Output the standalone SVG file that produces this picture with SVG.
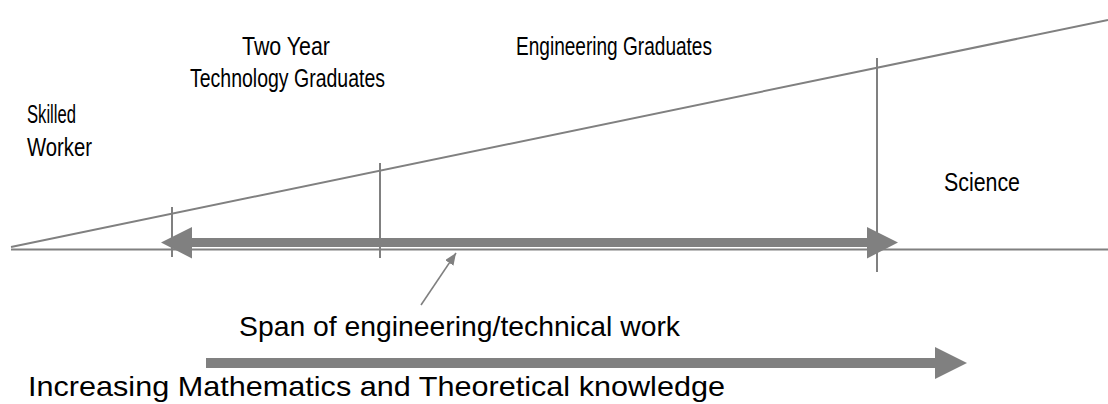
<svg xmlns="http://www.w3.org/2000/svg" width="1108" height="404" viewBox="0 0 1108 404">
  <style>
    .line { stroke: #808080; stroke-width: 2; fill: none; }
    .thin { stroke: #808080; stroke-width: 1.6; fill: none; }
    .band { fill: #808080; stroke: none; }
    .lbl { font-family: "Liberation Sans Narrow", "Liberation Sans", Arial, sans-serif; font-size: 25px; fill: #000; }
    .big { font-family: "Liberation Sans", Arial, sans-serif; font-size: 28px; fill: #000; }
  </style>
  <defs>
    <marker id="tip" viewBox="0 0 12 10" refX="12" refY="5" markerWidth="12" markerHeight="10" markerUnits="userSpaceOnUse" orient="auto">
      <path d="M0,0 L12,5 L0,10 Z" fill="#808080"/>
    </marker>
  </defs>

  <!-- axis, slope and the three dividers -->
  <g id="frame">
    <line class="line" x1="11" y1="249.5" x2="1108" y2="249.5"/>
    <line class="line" x1="11" y1="247" x2="1108" y2="20"/>
    <line class="line" x1="172" y1="207" x2="172" y2="257"/>
    <line class="line" x1="380" y1="163" x2="380" y2="258"/>
    <line class="line" x1="877" y1="58" x2="877" y2="272"/>
  </g>

  <g id="connectors">
    <!-- span of engineering/technical work -->
    <polygon class="band" points="161,242.5 192,227 192,238 867,238 867,227 898,242.5 867,258.5 867,247 192,247 192,258.5"/>
    <!-- increasing mathematics -->
    <polygon class="band" points="206,358 935,358 935,347 967,363 935,379 935,368 206,368"/>
    <!-- pointer to the span -->
    <line class="thin" x1="421" y1="305" x2="456" y2="253" marker-end="url(#tip)"/>
  </g>

  <g id="skilled-worker">
    <text class="lbl" x="27" y="123" textLength="49" lengthAdjust="spacingAndGlyphs">Skilled</text>
    <text class="lbl" x="27" y="156" textLength="65" lengthAdjust="spacingAndGlyphs">Worker</text>
  </g>

  <g id="two-year">
    <text class="lbl" x="242" y="55" textLength="88" lengthAdjust="spacingAndGlyphs">Two Year</text>
    <text class="lbl" x="190" y="87" textLength="195" lengthAdjust="spacingAndGlyphs">Technology Graduates</text>
  </g>

  <g id="engineering">
    <text class="lbl" x="516" y="55" textLength="196" lengthAdjust="spacingAndGlyphs">Engineering Graduates</text>
  </g>

  <g id="science">
    <text class="lbl" x="944" y="191" textLength="76" lengthAdjust="spacingAndGlyphs">Science</text>
  </g>

  <g id="span-label">
    <text class="big" x="239" y="336" textLength="441" lengthAdjust="spacingAndGlyphs">Span of engineering/technical work</text>
  </g>

  <g id="math-label">
    <text class="big" x="28" y="396" font-size="30" textLength="697" lengthAdjust="spacingAndGlyphs">Increasing Mathematics and Theoretical knowledge</text>
  </g>
</svg>
